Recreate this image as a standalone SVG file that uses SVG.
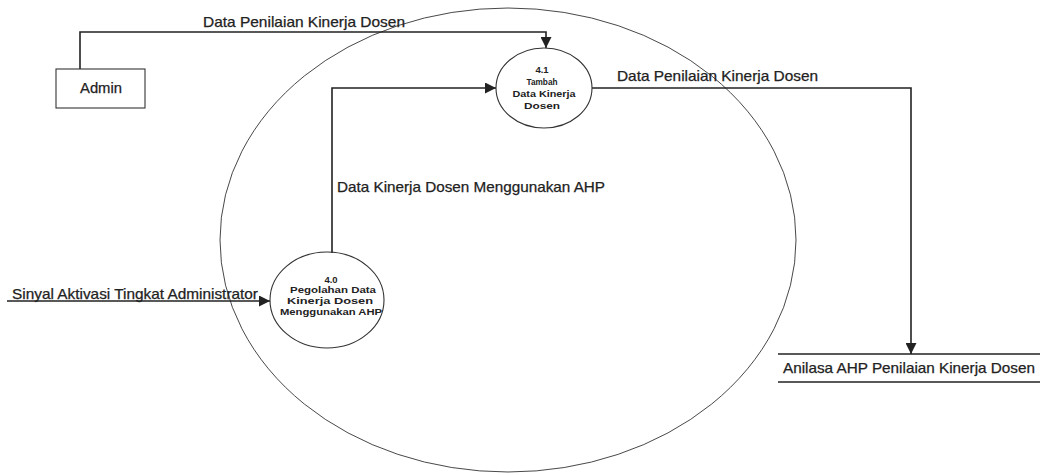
<svg xmlns="http://www.w3.org/2000/svg" width="1040" height="474" viewBox="0 0 1040 474">
<style>
.lbl{font-family:"Liberation Sans",Arial,sans-serif;font-size:14.5px;fill:#222;stroke:#222;stroke-width:0.25;}
.small{font-family:"Liberation Sans",Arial,sans-serif;font-size:9.5px;font-weight:bold;fill:#222;text-anchor:middle;}
.ln{fill:none;stroke:#222;stroke-width:1.6;}
.shape{fill:none;stroke:#333;stroke-width:1.1;}
</style>
<defs>
<marker id="arr" viewBox="0 0 10 10" refX="10" refY="5" markerWidth="11" markerHeight="11" markerUnits="userSpaceOnUse" orient="auto">
<path d="M0,0 L10,5 L0,10 z" fill="#222"/>
</marker>
</defs>
<rect width="1040" height="474" fill="#ffffff"/>
<g id="boundary">
<ellipse cx="508" cy="240" rx="288" ry="232" fill="none" stroke="#333" stroke-width="0.9"/>
</g>
<g id="connectors">
<path class="ln" d="M80,69 V32 H546 V48" marker-end="url(#arr)"/>
<path class="ln" d="M332,253 V88 H496" marker-end="url(#arr)"/>
<path class="ln" d="M592,88 H911 V354" marker-end="url(#arr)"/>
<path class="ln" d="M7,301 H270" marker-end="url(#arr)"/>
<text class="lbl" x="203" y="27" textLength="202" lengthAdjust="spacingAndGlyphs">Data Penilaian Kinerja Dosen</text>
<text class="lbl" x="617" y="81" textLength="201" lengthAdjust="spacingAndGlyphs">Data Penilaian Kinerja Dosen</text>
<text class="lbl" x="337" y="192" textLength="268" lengthAdjust="spacingAndGlyphs">Data Kinerja Dosen Menggunakan AHP</text>
<text class="lbl" x="12" y="299" textLength="246" lengthAdjust="spacingAndGlyphs">Sinyal Aktivasi Tingkat Administrator</text>
</g>
<g id="admin">
<rect class="shape" x="56" y="69" width="89" height="39" stroke-width="1.4"/>
<text class="lbl" x="80" y="93" textLength="42" lengthAdjust="spacingAndGlyphs">Admin</text>
</g>
<g id="p41">
<ellipse class="shape" cx="544" cy="88" rx="48" ry="40" fill="#fff"/>
<text class="small" x="542" y="73">4.1</text>
<text class="small" x="542" y="85" textLength="31" lengthAdjust="spacingAndGlyphs">Tambah</text>
<text class="small" x="544" y="97" textLength="63" lengthAdjust="spacingAndGlyphs">Data Kinerja</text>
<text class="small" x="542" y="109" textLength="36" lengthAdjust="spacingAndGlyphs">Dosen</text>
</g>
<g id="p40">
<ellipse class="shape" cx="327" cy="300" rx="57" ry="48" fill="#fff"/>
<text class="small" x="331" y="283">4.0</text>
<text class="small" x="333" y="293" textLength="86" lengthAdjust="spacingAndGlyphs">Pegolahan Data</text>
<text class="small" x="330" y="304" textLength="86" lengthAdjust="spacingAndGlyphs">Kinerja Dosen</text>
<text class="small" x="331" y="315" textLength="102" lengthAdjust="spacingAndGlyphs">Menggunakan AHP</text>
</g>
<g id="store">
<line class="ln" x1="778" y1="354" x2="1040" y2="354"/>
<line class="ln" x1="778" y1="382" x2="1040" y2="382"/>
<text class="lbl" x="783" y="373" textLength="252" lengthAdjust="spacingAndGlyphs">Anilasa AHP Penilaian Kinerja Dosen</text>
</g>
</svg>
